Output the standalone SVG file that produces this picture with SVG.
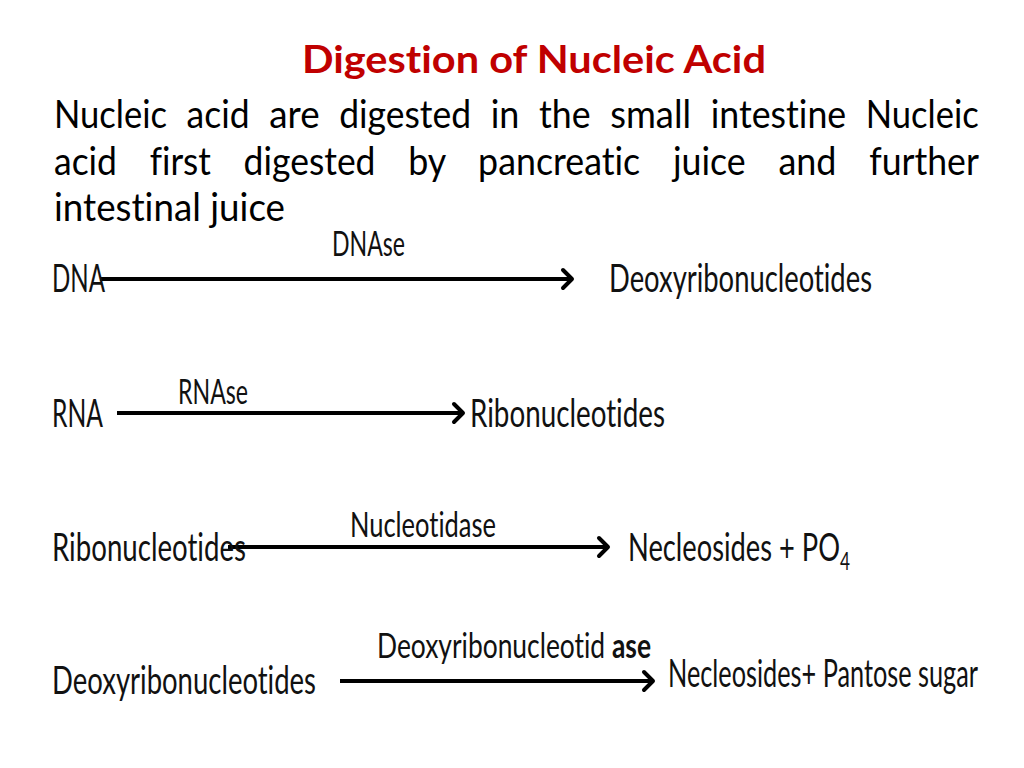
<svg xmlns="http://www.w3.org/2000/svg" width="1024" height="768" viewBox="0 0 1024 768">
<defs>
<marker id="chev" markerUnits="userSpaceOnUse" markerWidth="20" markerHeight="24" refX="11" refY="10" orient="auto" overflow="visible">
<path d="M2,1 L11,10 L2,19" fill="none" stroke="#000" stroke-width="4" stroke-linecap="round" stroke-linejoin="round"/>
</marker>
<style>
text{font-variant-ligatures:none;font-feature-settings:"liga" 0,"clig" 0}
.title{font-family:Lato,"Liberation Sans",sans-serif;font-weight:bold;font-size:38px;fill:#C00000}
.para{font-family:Lato,"Liberation Sans",sans-serif;font-size:38px;fill:#000}
.lbl{font-family:Lato,"Liberation Sans",sans-serif;font-size:30px;fill:#111}
.enz{font-family:Lato,"Liberation Sans",sans-serif;font-size:27px;fill:#111}
.arrow{stroke:#000;stroke-width:4;fill:none;marker-end:url(#chev)}
</style>
</defs>
<rect width="1024" height="768" fill="#fff"/>
<text class="title" x="302" y="73" textLength="464" lengthAdjust="spacingAndGlyphs">Digestion of Nucleic Acid</text>
<g id="paragraph" class="para">
<text y="128">
<tspan x="54" textLength="113" lengthAdjust="spacingAndGlyphs">Nucleic</tspan>
<tspan x="186.6" textLength="63" lengthAdjust="spacingAndGlyphs">acid</tspan>
<tspan x="269.2" textLength="50.4" lengthAdjust="spacingAndGlyphs">are</tspan>
<tspan x="339.2" textLength="131.9" lengthAdjust="spacingAndGlyphs">digested</tspan>
<tspan x="490.7" textLength="28.7" lengthAdjust="spacingAndGlyphs">in</tspan>
<tspan x="539" textLength="51.6" lengthAdjust="spacingAndGlyphs">the</tspan>
<tspan x="610.2" textLength="80.9" lengthAdjust="spacingAndGlyphs">small</tspan>
<tspan x="710.7" textLength="135.5" lengthAdjust="spacingAndGlyphs">intestine</tspan>
<tspan x="865.8" textLength="113" lengthAdjust="spacingAndGlyphs">Nucleic</tspan>
</text>
<text y="175">
<tspan x="54" textLength="63" lengthAdjust="spacingAndGlyphs">acid</tspan>
<tspan x="149.7" textLength="61.2" lengthAdjust="spacingAndGlyphs">first</tspan>
<tspan x="243.6" textLength="131.9" lengthAdjust="spacingAndGlyphs">digested</tspan>
<tspan x="408.2" textLength="37.2" lengthAdjust="spacingAndGlyphs">by</tspan>
<tspan x="478.1" textLength="162.1" lengthAdjust="spacingAndGlyphs">pancreatic</tspan>
<tspan x="672.9" textLength="72.8" lengthAdjust="spacingAndGlyphs">juice</tspan>
<tspan x="778.4" textLength="58.1" lengthAdjust="spacingAndGlyphs">and</tspan>
<tspan x="869.2" textLength="109.7" lengthAdjust="spacingAndGlyphs">further</tspan>
</text>
<text x="54" y="221" textLength="231" lengthAdjust="spacingAndGlyphs">intestinal juice</text>
</g>
<g id="connectors">
<line class="arrow" x1="100" y1="279" x2="572" y2="279"/>
<line class="arrow" x1="117" y1="413" x2="463" y2="413"/>
<line class="arrow" x1="228" y1="547" x2="608" y2="547"/>
<line class="arrow" x1="340" y1="681" x2="653" y2="681"/>
</g>
<g id="enzymes" class="enz">
<g transform="translate(332,256) scale(1,1.28)"><text textLength="73" lengthAdjust="spacingAndGlyphs">DNAse</text></g>
<g transform="translate(178,404) scale(1,1.28)"><text textLength="70" lengthAdjust="spacingAndGlyphs">RNAse</text></g>
<g transform="translate(350,537) scale(1,1.28)"><text textLength="146" lengthAdjust="spacingAndGlyphs">Nucleotidase</text></g>
<g transform="translate(377,658) scale(1,1.28)"><text textLength="274" lengthAdjust="spacingAndGlyphs">Deoxyribonucleotid <tspan font-weight="bold">ase</tspan></text></g>
</g>
<g id="node-dna" class="lbl" transform="translate(52,292) scale(1,1.3)"><text textLength="53" lengthAdjust="spacingAndGlyphs">DNA</text></g>
<g id="node-deoxyribonucleotides-1" class="lbl" transform="translate(609,292) scale(1,1.3)"><text textLength="263" lengthAdjust="spacingAndGlyphs">Deoxyribonucleotides</text></g>
<g id="node-rna" class="lbl" transform="translate(52,427) scale(1,1.3)"><text textLength="51" lengthAdjust="spacingAndGlyphs">RNA</text></g>
<g id="node-ribonucleotides-1" class="lbl" transform="translate(470,427) scale(1,1.3)"><text textLength="195" lengthAdjust="spacingAndGlyphs">Ribonucleotides</text></g>
<g id="node-ribonucleotides-2" class="lbl" transform="translate(52,561) scale(1,1.3)"><text textLength="194" lengthAdjust="spacingAndGlyphs">Ribonucleotides</text></g>
<g id="node-necleosides-po4" class="lbl" transform="translate(628,561) scale(1,1.3)"><text textLength="222" lengthAdjust="spacingAndGlyphs">Necleosides + PO<tspan font-size="19" dy="7">4</tspan></text></g>
<g id="node-deoxyribonucleotides-2" class="lbl" transform="translate(52,694) scale(1,1.3)"><text textLength="264" lengthAdjust="spacingAndGlyphs">Deoxyribonucleotides</text></g>
<g id="node-necleosides-sugar" class="lbl" transform="translate(668,687) scale(1,1.39)"><text font-size="28" textLength="310" lengthAdjust="spacingAndGlyphs">Necleosides+ Pantose sugar</text></g>
</svg>
